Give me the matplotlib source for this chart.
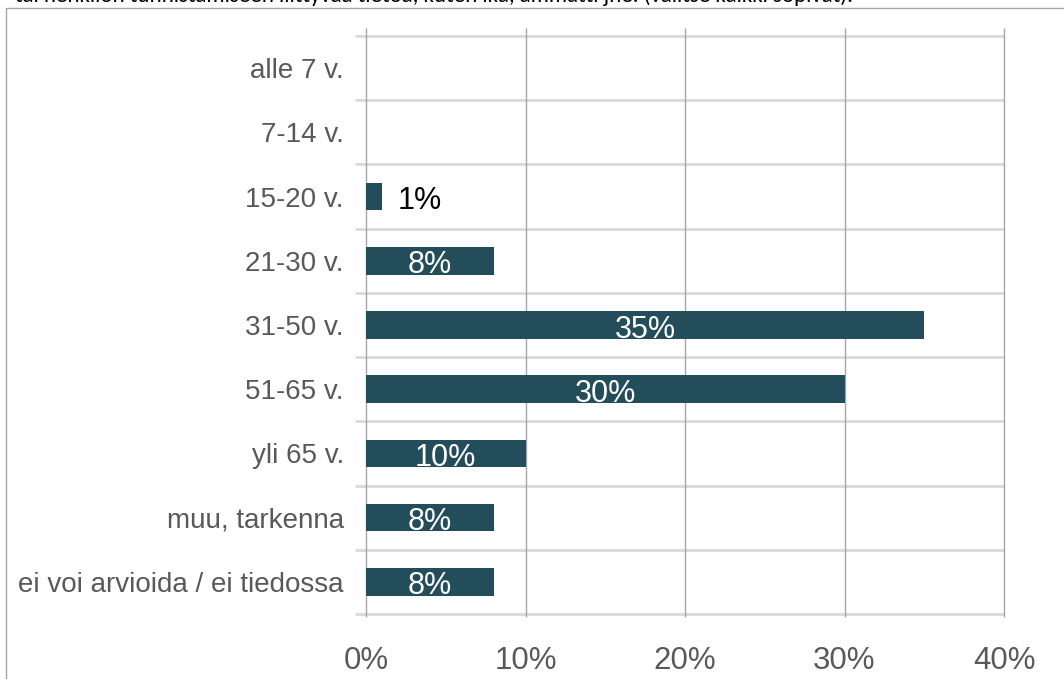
import matplotlib.pyplot as plt
from matplotlib.patches import Rectangle

# Data
categories = ['alle 7 v.', '7-14 v.', '15-20 v.', '21-30 v.', '31-50 v.',
              '51-65 v.', 'yli 65 v.', 'muu, tarkenna', 'ei voi arvioida / ei tiedossa']
values = [0, 0, 1, 8, 35, 30, 10, 8, 8]
x_ticks = [0, 10, 20, 30, 40]
x_tick_labels = ['0%', '10%', '20%', '30%', '40%']
title_text = 'tai henkilön tunnistamiseen liittyvää tietoa, kuten ikä, ammatti jne. (valitse kaikki sopivat).'

bar_color = '#244d5b'
grid_h = '#d9d9d9'
grid_v = '#a6a6a6'
text_grey = '#595959'
font = ['Liberation Sans', 'DejaVu Sans']

fig = plt.figure(figsize=(10.64, 6.79), dpi=100)
ax = fig.add_axes([366 / 1064, 65 / 679, 638 / 1064, (614 - 28) / 679])

# frame around the chart area
fig.patches.append(Rectangle((6 / 1064, -0.05), 1.1, 1 - 8 / 679 + 0.05,
                             transform=fig.transFigure, fill=False,
                             edgecolor='#a6a6a6', linewidth=1))

# cropped title at the very top
fig.text(15 / 1064, 1 - 2.5 / 679, title_text, fontsize=16.5, color='black',
         family=['Carlito', 'Liberation Sans', 'DejaVu Sans'], ha='left', va='baseline')

y_pos = list(range(len(categories)))
ax.barh(y_pos, values, height=0.43, color=bar_color, zorder=3)

for y, v in zip(y_pos, values):
    if v == 0:
        continue
    label = f'{v}%'
    if v < 3:
        ax.text(v + 1.0, y + 0.19, label, ha='left', va='baseline', fontsize=22,
                color='black', family=font, zorder=4)
    else:
        ax.text(v / 2, y + 0.195, label, ha='center', va='baseline', fontsize=22,
                color='white', family=font, zorder=4)

n = len(categories)
ax.set_xlim(0, 40)
ax.set_ylim(n - 0.5, -0.5 - 8 / 64.4)

# gridlines
ax.hlines([i - 0.5 for i in range(n + 1)], -0.7, 40, colors=grid_h,
          linewidth=2, zorder=1, clip_on=False)
for x in x_ticks:
    ax.vlines(x, n - 0.5 + 0.05, -0.5 - 8 / 64.4, colors=grid_v,
              linewidth=1, zorder=2, clip_on=False)

for s in ax.spines.values():
    s.set_visible(False)

ax.set_yticks(y_pos)
ax.set_yticklabels(categories, fontsize=20, color=text_grey, family=font)
ax.set_xticks(x_ticks)
ax.set_xticklabels(x_tick_labels, fontsize=22.5, color=text_grey, family=font)
ax.tick_params(axis='y', length=0, pad=16)
ax.tick_params(axis='x', length=0, pad=23)

fig.savefig('out.png', dpi=100)
